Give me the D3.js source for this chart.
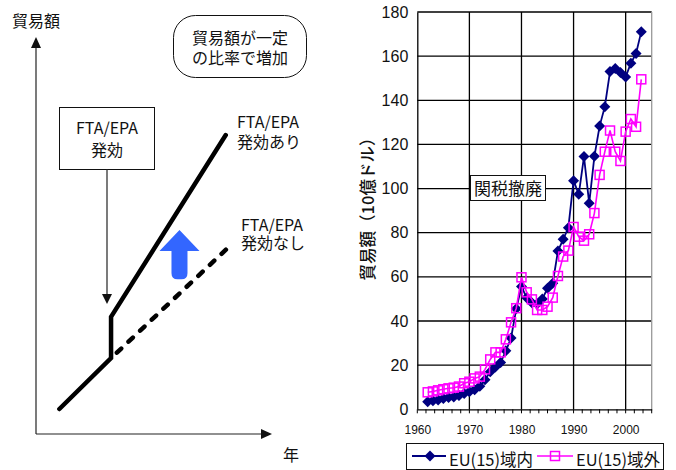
<!DOCTYPE html>
<html>
<head>
<meta charset="utf-8">
<script src="https://cdn.jsdelivr.net/npm/d3@7"></script>
<style>
  html, body { margin: 0; padding: 0; background: #fff; }
  svg { display: block; }
</style>
</head>
<body>
<svg id="chart" width="676" height="470"></svg>
<script>
// ---- Trade values, EU(15), billions of dollars ----
const years = d3.range(1962, 2004);
const intraEU = [3.4, 3.9, 4.2, 4.9, 5.3, 5.6, 6.2, 7.2, 8.0, 8.9,
  10.4, 13.4, 17.0, 19.2, 21.2, 26.5, 32.3, 45.5, 55.6, 50.5,
  48.3, 47.7, 50.0, 54.8, 57.1, 71.7, 77.0, 82.3, 103.6, 97.4,
  114.5, 93.3, 114.6, 128.3, 137.1, 153.0, 154.4, 152.6, 150.6, 156.8,
  161.2, 171.1];
const extraEU = [7.7, 8.1, 8.6, 9.1, 9.5, 9.8, 10.3, 11.8, 12.5, 14.0,
  14.8, 18.1, 22.6, 25.8, 25.8, 31.7, 39.4, 45.8, 59.8, 53.0,
  49.8, 45.0, 45.0, 46.5, 50.6, 60.4, 69.2, 71.9, 82.6, 78.2,
  76.4, 79.3, 88.9, 106.2, 116.7, 126.3, 116.7, 112.5, 125.8, 131.5,
  128.0, 149.5];
const yTicks = [0, 20, 40, 60, 80, 100, 120, 140, 160, 180];
const xTicks = [1960, 1970, 1980, 1990, 2000];
const seriesNames = ["EU(15)域内", "EU(15)域外"];

// ---- Schematic: trade with / without an FTA/EPA (abstract units 0-100) ----
const withAgreement = [[9.9, 6.3], [31.8, 19.1], [31.8, 29.5], [80.4, 75.3]];
const withoutAgreement = [[31.8, 19.1], [82.2, 47.4]];

const jp = "'Noto Sans CJK JP', 'Noto Sans', sans-serif";
const num = "'Liberation Sans', Arial, sans-serif";

const svg = d3.select("#chart");
svg.append("rect").attr("width", 676).attr("height", 470).attr("fill", "#fff");

// two-line label as a single text element
function twoLines(g, x0, y0, lines, gap, anchor) {
  const t = g.append("text").attr("x", x0).attr("y", y0)
    .attr("text-anchor", anchor || "start")
    .attr("font-family", jp).attr("font-size", 16).attr("fill", "#111");
  lines.forEach((s, i) => t.append("tspan").attr("x", x0).attr("y", y0 + i * gap).text(s));
  return t;
}

// =================== Left panel: schematic ===================
const L = svg.append("g");
const sx = d3.scaleLinear().domain([0, 100]).range([36, 272]);
const sy = d3.scaleLinear().domain([0, 100]).range([434, 37]);

// axes with arrow heads
L.append("line").attr("x1", sx(0)).attr("y1", sy(0)).attr("x2", sx(0)).attr("y2", sy(0) - 388)
  .attr("stroke", "#222").attr("stroke-width", 1.2);
L.append("path").attr("d", `M${sx(0)},${sy(100)} l-5,11 l10,0 z`).attr("fill", "#111");
L.append("line").attr("x1", sx(0)).attr("y1", sy(0)).attr("x2", sx(100) - 9).attr("y2", sy(0))
  .attr("stroke", "#222").attr("stroke-width", 1.2);
L.append("path").attr("d", `M${sx(100)},${sy(0)} l-11,-5 l0,10 z`).attr("fill", "#111");

L.append("text").attr("x", 12).attr("y", 27)
  .attr("font-family", jp).attr("font-size", 16).attr("fill", "#111").text("貿易額");
L.append("text").attr("x", 283).attr("y", 461)
  .attr("font-family", jp).attr("font-size", 16).attr("fill", "#111").text("年");

// rounded note box
L.append("rect").attr("x", 173.5).attr("y", 15.5).attr("width", 133).attr("height", 62)
  .attr("rx", 22).attr("ry", 22).attr("fill", "#fff").attr("stroke", "#111").attr("stroke-width", 1);
twoLines(L, 240, 44, ["貿易額が一定", "の比率で増加"], 20, "middle");

// FTA/EPA entry box with pointer
L.append("rect").attr("x", 59.5).attr("y", 107.5).attr("width", 95).attr("height", 62)
  .attr("fill", "#fff").attr("stroke", "#111").attr("stroke-width", 1);
twoLines(L, 107, 134, ["FTA/EPA", "発効"], 22, "middle");
L.append("line").attr("x1", 107).attr("y1", 169).attr("x2", 107).attr("y2", 295)
  .attr("stroke", "#222").attr("stroke-width", 1.2);
L.append("path").attr("d", "M107,304 l-5,-10 l10,0 z").attr("fill", "#111");

const lineGen = d3.line().x(d => sx(d[0])).y(d => sy(d[1]));
L.append("path").attr("d", lineGen(withoutAgreement)).attr("fill", "none")
  .attr("stroke", "#000").attr("stroke-width", 4.5).attr("stroke-linecap", "round")
  .attr("stroke-dasharray", "6,10").attr("stroke-dashoffset", -8);
L.append("path").attr("d", lineGen(withAgreement)).attr("fill", "none")
  .attr("stroke", "#000").attr("stroke-width", 4.5).attr("stroke-linecap", "round")
  .attr("stroke-linejoin", "miter");

twoLines(L, 237, 128, ["FTA/EPA", "発効あり"], 20);
twoLines(L, 241, 231, ["FTA/EPA", "発効なし"], 18);

// blue upward arrow between the two paths
const ax = sx(60.8), aTip = sy(51.4), aBase = sy(46.1), aEnd = sy(39);
L.append("path")
  .attr("d", `M${ax},${aTip} L${ax + 20},${aBase} L${ax + 8},${aBase} L${ax + 8},${aEnd - 6}
    Q${ax + 8},${aEnd} ${ax + 2},${aEnd} L${ax - 2},${aEnd} Q${ax - 8},${aEnd} ${ax - 8},${aEnd - 6}
    L${ax - 8},${aBase} L${ax - 20},${aBase} Z`)
  .attr("fill", "#3366ff");

// =================== Right panel: EU(15) trade ===================
const R = svg.append("g");
const x = d3.scaleLinear().domain([1960, 2005]).range([417.3, 651.7]);
const y = d3.scaleLinear().domain([0, 180]).range([409.3, 12]);

// gridlines
R.selectAll("line.hg").data(yTicks.filter(d => d > 0)).join("line").attr("class", "hg")
  .attr("x1", x(1960)).attr("x2", x(2005)).attr("y1", d => y(d)).attr("y2", d => y(d))
  .attr("stroke", "#000").attr("stroke-width", 1.3);
R.selectAll("line.vg").data(xTicks.filter(d => d > 1960)).join("line").attr("class", "vg")
  .attr("x1", d => x(d)).attr("x2", d => x(d)).attr("y1", y(0)).attr("y2", y(180))
  .attr("stroke", "#000").attr("stroke-width", 1.3);
R.append("line").attr("x1", x(2005)).attr("x2", x(2005)).attr("y1", y(0)).attr("y2", y(180))
  .attr("stroke", "#999").attr("stroke-width", 1.3);

// axes
const yAxis = d3.axisLeft(y).tickValues(yTicks).tickSize(0).tickPadding(9);
R.append("g").attr("transform", `translate(${x(1960)},0)`).call(yAxis)
  .call(g => g.select(".domain").attr("stroke", "#000").attr("stroke-width", 1.3))
  .call(g => g.selectAll("text").attr("font-family", num).attr("font-size", 16).attr("fill", "#111"));

const minorTicks = d3.range(0, 28).map(i => 1960 + i * 10 / 6);
const xAxis = d3.axisBottom(x).tickValues(xTicks).tickSize(0).tickPadding(16).tickFormat(d3.format("d"));
R.append("g").attr("transform", `translate(0,${y(0)})`).call(xAxis)
  .call(g => g.select(".domain").attr("stroke", "#000").attr("stroke-width", 1.3))
  .call(g => g.selectAll("text").attr("font-family", num).attr("font-size", 12).attr("fill", "#111"));
R.selectAll("line.mt").data(minorTicks).join("line").attr("class", "mt")
  .attr("x1", d => x(d)).attr("x2", d => x(d)).attr("y1", y(0)).attr("y2", y(0) + 4)
  .attr("stroke", "#000").attr("stroke-width", 1);

// axis title
R.append("text").attr("transform", `translate(367,205) rotate(-90)`)
  .attr("text-anchor", "middle").attr("dominant-baseline", "central")
  .attr("font-family", jp).attr("font-size", 16.5).attr("font-weight", 500).attr("fill", "#111")
  .text("貿易額（10億ドル）");

// series
const intra = years.map((yr, i) => [yr, intraEU[i]]);
const extra = years.map((yr, i) => [yr, extraEU[i]]);
const sLine = d3.line().x(d => x(d[0])).y(d => y(d[1]));

R.append("path").attr("d", sLine(intra)).attr("fill", "none").attr("stroke", "#000080").attr("stroke-width", 1.8);
R.selectAll("path.dm").data(intra).join("path").attr("class", "dm")
  .attr("d", d => `M${x(d[0])},${y(d[1]) - 5.5}l5.5,5.5l-5.5,5.5l-5.5,-5.5z`).attr("fill", "#000080");

R.append("path").attr("d", sLine(extra)).attr("fill", "none").attr("stroke", "#ff00ff").attr("stroke-width", 1.6);
R.selectAll("rect.sq").data(extra).join("rect").attr("class", "sq")
  .attr("x", d => x(d[0]) - 4.5).attr("y", d => y(d[1]) - 4.5).attr("width", 9).attr("height", 9)
  .attr("fill", "none").attr("stroke", "#ff00ff").attr("stroke-width", 1.5);

// annotation
R.append("rect").attr("x", 470.5).attr("y", 175.5).attr("width", 75).attr("height", 25)
  .attr("fill", "#fff").attr("stroke", "#111").attr("stroke-width", 1);
R.append("text").attr("x", 508).attr("y", 194.5).attr("text-anchor", "middle")
  .attr("font-family", jp).attr("font-size", 17).attr("fill", "#111").text("関税撤廃");

// legend
const lg = R.append("g");
lg.append("rect").attr("x", 406.5).attr("y", 443.5).attr("width", 257).attr("height", 26)
  .attr("fill", "#fff").attr("stroke", "#111").attr("stroke-width", 1);
lg.append("line").attr("x1", 412).attr("x2", 446).attr("y1", 456).attr("y2", 456)
  .attr("stroke", "#000080").attr("stroke-width", 1.8);
lg.append("path").attr("d", "M430,450.5l5.5,5.5l-5.5,5.5l-5.5,-5.5z").attr("fill", "#000080");
lg.append("text").attr("x", 449).attr("y", 466)
  .attr("font-family", jp).attr("font-size", 16.5).attr("fill", "#111").text(seriesNames[0]);
lg.append("line").attr("x1", 537).attr("x2", 573).attr("y1", 456).attr("y2", 456)
  .attr("stroke", "#ff00ff").attr("stroke-width", 1.6);
lg.append("rect").attr("x", 550.5).attr("y", 451.5).attr("width", 9).attr("height", 9)
  .attr("fill", "none").attr("stroke", "#ff00ff").attr("stroke-width", 1.5);
lg.append("text").attr("x", 576).attr("y", 466)
  .attr("font-family", jp).attr("font-size", 16.5).attr("fill", "#111").text(seriesNames[1]);
</script>
</body>
</html>
